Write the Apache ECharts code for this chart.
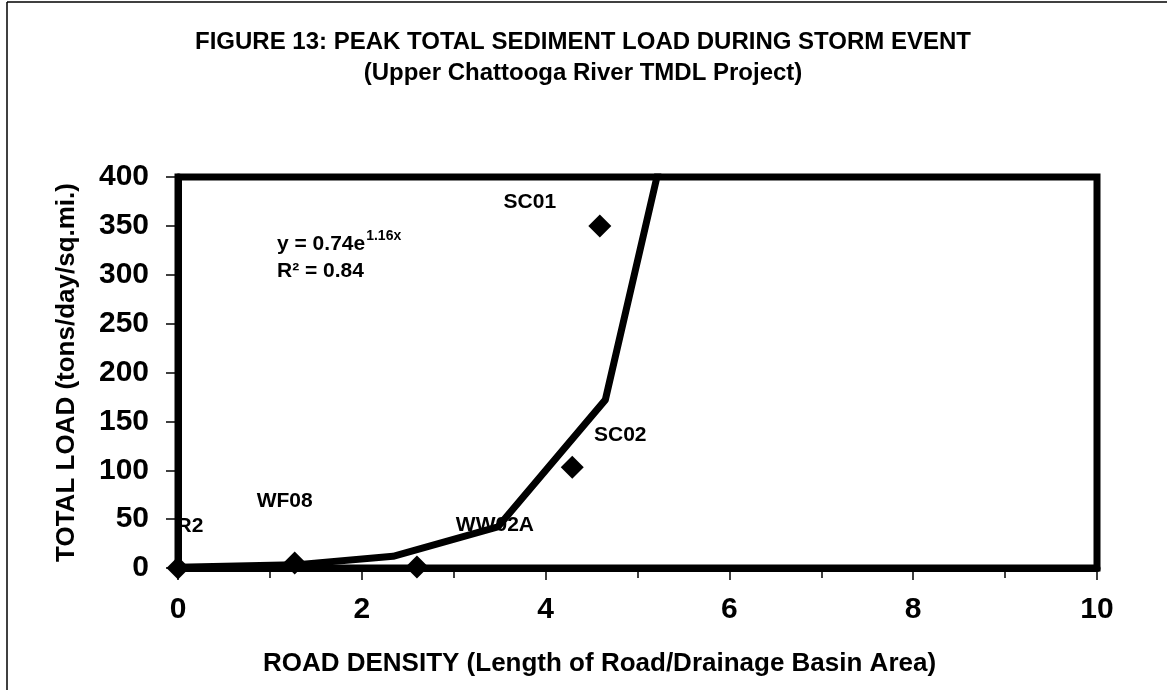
<!DOCTYPE html>
<html>
<head>
<meta charset="utf-8">
<script src="https://cdn.jsdelivr.net/npm/echarts@6/dist/echarts.min.js"></script>
<style>
    html, body { margin: 0; padding: 0; background: #fff; }
    #chart { width: 1167px; height: 690px; }
</style>
</head>
<body>
<div id="chart"></div>
<script>
// measured points (road density vs peak load)
const pointX = [0, 1.27, 2.6, 4.29, 4.59]
const pointY = [0, 5, 1, 103, 350]
const pointNames = ['R2', 'WF08', 'WW02A', 'SC02', 'SC01']

// fitted curve as drawn (polyline through the fit values)
const trendX = [0, 1.27, 2.34, 3.48, 4.65, 5.3]
const trendY = [0.7, 3.2, 12, 42, 172, 436]

const chartTitle = 'FIGURE 13: PEAK TOTAL SEDIMENT LOAD DURING STORM EVENT'
const chartSubtitle = '(Upper Chattooga River TMDL Project)'
const xName = 'ROAD DENSITY (Length of Road/Drainage Basin Area)'
const yName = 'TOTAL LOAD (tons/day/sq.mi.)'

const font = "'Liberation Sans', Arial, sans-serif"
// label offsets in px from each diamond (labels were dragged in the original)
const labelOffsets = [[12, -42], [-10, -62], [78, -42], [48, -32], [-70, -24]]

const chart = echarts.init(document.getElementById('chart'))

const scatterData = pointX.map((x, i) => ({
    value: [x, pointY[i]],
    label: { formatter: pointNames[i], offset: labelOffsets[i] },
}))
const trendData = trendX.map((x, i) => [x, trendY[i]])

const boldText = size => ({ fontFamily: font, fontWeight: 'bold', fontSize: size, color: '#000' })

const option = {
    animation: false,
    backgroundColor: '#fff',
    title: {
        text: chartTitle + '\n' + chartSubtitle,
        left: 578,
        textAlign: 'center',
        top: 22,
        textStyle: Object.assign(boldText(24), { lineHeight: 31 }),
    },
    grid: {
        left: 178,
        top: 177,
        right: 70,
        bottom: 122,
        show: true,
        borderColor: '#000',
        borderWidth: 7,
        containLabel: false,
    },
    xAxis: {
        type: 'value',
        min: 0,
        max: 10,
        interval: 2,
        name: xName,
        nameLocation: 'middle',
        nameGap: 83,
        nameMoveOverlap: false,
        nameTextStyle: Object.assign(boldText(26), { padding: [0, 76, 0, 0] }),
        axisLine: { show: true, lineStyle: { color: '#000', width: 7 } },
        axisTick: { show: true, length: 12, lineStyle: { color: '#000', width: 1.5 } },
        minorTick: { show: true, splitNumber: 2, length: 10, lineStyle: { color: '#000', width: 1.5 } },
        splitLine: { show: false },
        axisLabel: Object.assign(boldText(30), { margin: 27 }),
    },
    yAxis: {
        type: 'value',
        min: 0,
        max: 400,
        interval: 50,
        name: yName,
        nameLocation: 'middle',
        nameRotate: 90,
        nameGap: 98,
        nameMoveOverlap: false,
        nameTextStyle: boldText(26),
        axisLine: { show: true, lineStyle: { color: '#000', width: 7 } },
        axisTick: { show: true, length: 12, lineStyle: { color: '#000', width: 1.5 } },
        splitLine: { show: false },
        axisLabel: Object.assign(boldText(30), { margin: 29 }),
    },
    graphic: [
        {
            type: 'text',
            left: 277,
            top: 229,
            style: {
                text: '{a|y = 0.74e}{s|1.16x}',
                rich: {
                    a: { fontFamily: font, fontWeight: 'bold', fontSize: 21, lineHeight: 26, fill: '#000', verticalAlign: 'bottom' },
                    s: { fontFamily: font, fontWeight: 'bold', fontSize: 14, lineHeight: 15, fill: '#000', verticalAlign: 'top', padding: [0, 0, 0, 1] },
                },
            },
        },
        {
            type: 'text',
            left: 277,
            top: 261,
            style: { text: 'R² = 0.84', fontFamily: font, fontWeight: 'bold', fontSize: 21, fill: '#000' },
        },
        // scanned page frame
        { type: 'line', shape: { x1: 7, y1: 2, x2: 7, y2: 690 }, style: { stroke: '#000', lineWidth: 1.5 } },
        { type: 'line', shape: { x1: 7, y1: 2, x2: 1167, y2: 2 }, style: { stroke: '#000', lineWidth: 1.5 } },
    ],
    series: [
        {
            name: 'observed',
            type: 'scatter',
            z: 2,
            symbol: 'diamond',
            symbolSize: 23,
            itemStyle: { color: '#000', opacity: 1 },
            label: Object.assign(boldText(21), { show: true, position: 'inside', opacity: 1 }),
            data: scatterData,
        },
        {
            name: 'fit',
            type: 'line',
            z: 5,
            symbol: 'none',
            clip: true,
            lineStyle: { color: '#000', width: 7, join: 'round', cap: 'round' },
            data: trendData,
        },
    ],
}

chart.setOption(option)
</script>
</body>
</html>
